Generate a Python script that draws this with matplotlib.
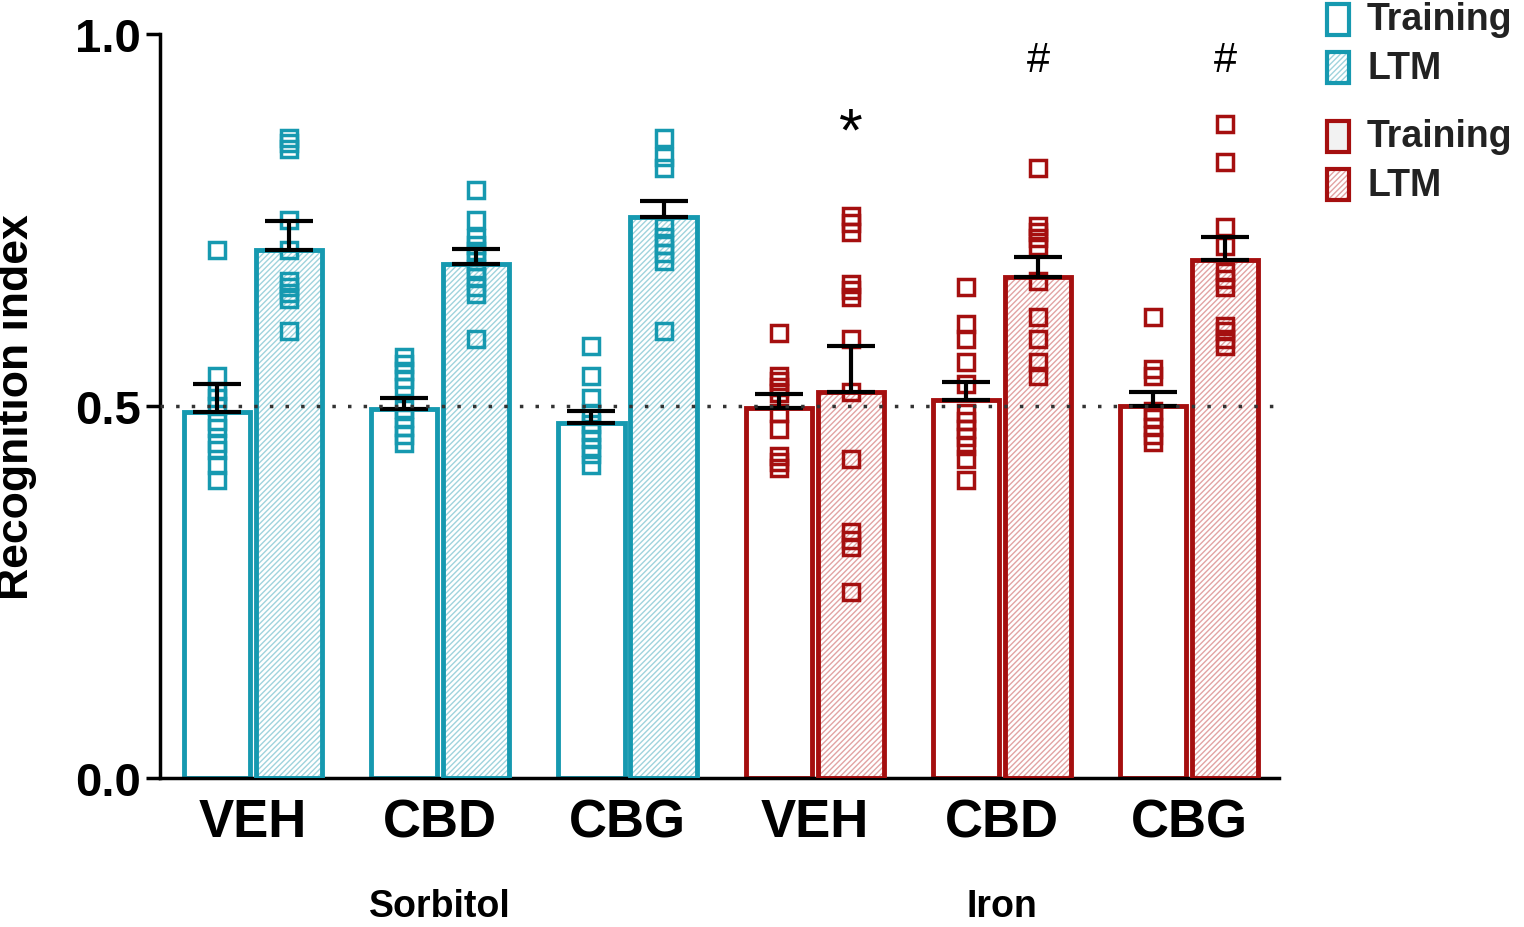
import matplotlib
matplotlib.use("Agg")
import matplotlib.pyplot as plt
import matplotlib.patches as mpatches
import numpy as np

plt.rcParams['font.family'] = ['Liberation Sans', 'DejaVu Sans']
plt.rcParams['hatch.linewidth'] = 1.0

drugs = ["VEH", "CBD", "CBG", "VEH", "CBD", "CBG"]
groups = ["Sorbitol", "Iron"]
train_mean = [0.492, 0.496, 0.477, 0.497, 0.508, 0.500]
train_sem = [0.037, 0.014, 0.016, 0.019, 0.024, 0.019]
ltm_mean = [0.710, 0.690, 0.754, 0.519, 0.673, 0.696]
ltm_sem = [0.039, 0.021, 0.021, 0.061, 0.027, 0.031]
train_pts = [
    [0.71, 0.54, 0.52, 0.51, 0.50, 0.48, 0.47, 0.45, 0.44, 0.42, 0.40],
    [0.566, 0.556, 0.547, 0.536, 0.525, 0.496, 0.483, 0.472, 0.461, 0.45],
    [0.58, 0.54, 0.51, 0.49, 0.475, 0.465, 0.455, 0.445, 0.435, 0.42],
    [0.598, 0.54, 0.534, 0.525, 0.517, 0.49, 0.469, 0.433, 0.425, 0.417],
    [0.66, 0.61, 0.59, 0.559, 0.53, 0.49, 0.48, 0.469, 0.458, 0.446, 0.429, 0.40],
    [0.62, 0.55, 0.54, 0.493, 0.483, 0.472, 0.461, 0.452],
]
ltm_pts = [
    [0.86, 0.853, 0.845, 0.75, 0.71, 0.668, 0.66, 0.652, 0.644, 0.60],
    [0.79, 0.75, 0.725, 0.716, 0.708, 0.695, 0.684, 0.673, 0.66, 0.65, 0.59],
    [0.86, 0.835, 0.82, 0.74, 0.727, 0.716, 0.706, 0.695, 0.60],
    [0.755, 0.745, 0.734, 0.664, 0.655, 0.646, 0.59, 0.519, 0.429, 0.33, 0.32, 0.31, 0.25],
    [0.82, 0.742, 0.734, 0.725, 0.715, 0.668, 0.62, 0.59, 0.559, 0.54],
    [0.879, 0.828, 0.74, 0.715, 0.68, 0.67, 0.66, 0.607, 0.60, 0.59, 0.58],
]
annot = ["", "", "", "*", "#", "#"]
annot_y = [0, 0, 0, 0.865, 0.965, 0.965]

teal = "#1699b0"
teal_l = "#9fd3dd"
red = "#a50f0f"
red_l = "#e2a3a3"

fig = plt.figure(figsize=(15.24, 9.28), dpi=100)
ax = fig.add_axes([0.105, 0.1606, 0.734, 0.802])
step = 2.6
w = 0.92
for i in range(6):
    c = teal if i < 3 else red
    cl = teal_l if i < 3 else red_l
    xt = i * step
    xl = i * step + 1
    ax.bar(xt, train_mean[i], w, facecolor="white", edgecolor=c, linewidth=3.5, zorder=2)
    ax.bar(xl, ltm_mean[i], w, facecolor="white", edgecolor=cl, hatch="//////", linewidth=0, zorder=2)
    ax.bar(xl, ltm_mean[i], w, facecolor="none", edgecolor=c, linewidth=3.5, zorder=3)
    for x, m, s in [(xt, train_mean[i], train_sem[i]), (xl, ltm_mean[i], ltm_sem[i])]:
        ax.errorbar(x, m, yerr=[[0], [s]], color="black", capsize=17, elinewidth=3, capthick=3, zorder=5)
    ax.plot([xt] * len(train_pts[i]), train_pts[i], 's', mfc="none", mec=c, ms=11, mew=2.5, zorder=4)
    ax.plot([xl] * len(ltm_pts[i]), ltm_pts[i], 's', mfc="none", mec=c, ms=11, mew=2.5, zorder=4)
    if annot[i]:
        fs = 44 if annot[i] == "*" else 30
        ax.text(xl, annot_y[i], annot[i], ha="center", va="center", fontsize=fs, color="black")

ax.axhline(0.5, color="#333333", linestyle=(0, (1, 3.5)), linewidth=2.5, zorder=6)
ax.set_xlim(-0.79, 14.74)
ax.set_ylim(0, 1.0)
ax.set_yticks([0, 0.5, 1.0])
ax.set_yticklabels(["0.0", "0.5", "1.0"], fontsize=34, fontweight="bold")
ax.set_xticks([i * step + 0.5 for i in range(6)])
ax.set_xticklabels(drugs, fontsize=38, fontweight="bold")
ax.tick_params(axis="x", length=0, pad=14)
ax.tick_params(axis="y", width=2.5, length=10, pad=4)
for s in ["top", "right"]:
    ax.spines[s].set_visible(False)
for s in ["left", "bottom"]:
    ax.spines[s].set_linewidth(2.5)
ax.set_ylabel("Recognition index", fontsize=32, fontweight="bold")
ax.yaxis.set_label_coords(-0.11, 0.5)

for g, xc in zip(groups, [step * 1 + 0.5, step * 4 + 0.5]):
    ax.text(xc, -0.172, g, transform=ax.get_xaxis_transform(), ha="center", va="center",
            fontsize=27, fontweight="bold")

# legend
entries = [("Training", teal, None, 0.978), ("LTM", teal, teal_l, 0.926),
           ("Training", red, None, 0.852), ("LTM", red, red_l, 0.800)]
for lab, c, cl, y in entries:
    x0, wd, ht = 0.8705, 0.0145, 0.034
    if cl:
        fig.add_artist(mpatches.Rectangle((x0, y - ht / 2), wd, ht, transform=fig.transFigure,
                                          facecolor="white", edgecolor=cl, hatch="//////", linewidth=0))
    else:
        fc = "white" if c == teal else "#f2f2f2"
        fig.add_artist(mpatches.Rectangle((x0, y - ht / 2), wd, ht, transform=fig.transFigure,
                                          facecolor=fc, edgecolor="none"))
    fig.add_artist(mpatches.Rectangle((x0, y - ht / 2), wd, ht, transform=fig.transFigure,
                                      facecolor="none", edgecolor=c, linewidth=3))
    fig.text(0.897, y, lab, fontsize=27, fontweight="bold", va="center", ha="left", color="#222222")

fig.savefig("out.png", dpi=100)
